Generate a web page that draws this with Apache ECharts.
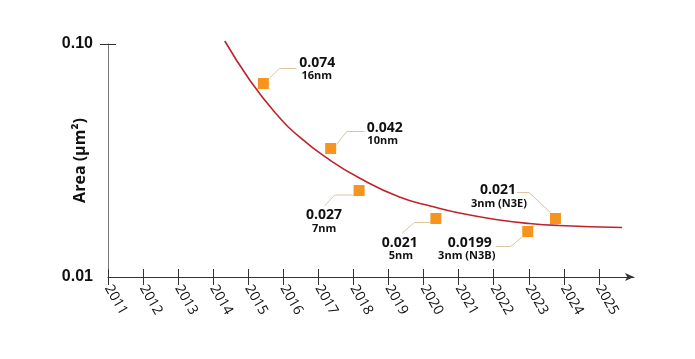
<!DOCTYPE html>
<html><head><meta charset="utf-8">
<script src="https://cdn.jsdelivr.net/npm/echarts@6/dist/echarts.min.js"></script>
<style>html,body{margin:0;padding:0;background:#fff}#c{width:695px;height:359px}</style>
</head><body><div id="c"></div>
<script>
// ---- data ----
const years = [2011,2012,2013,2014,2015,2016,2017,2018,2019,2020,2021,2022,2023,2024,2025];
const yTicks = [0.01, 0.1];
const yTickLabels = ['0.01', '0.10'];
const curveYears  = [2014.33, 2015.04, 2015.75, 2016.46, 2017.32, 2018.17, 2019.31, 2020.25, 2021.02, 2022.16, 2023.01, 2023.86, 2025.66];
const curveValues = [0.1030, 0.0701, 0.0511, 0.0399, 0.0318, 0.0266, 0.02205, 0.02008, 0.01882, 0.01757, 0.01697, 0.01664, 0.01631];
const pointYears  = [2015.43, 2017.35, 2018.16, 2020.35, 2022.97, 2023.76];
const pointValues = [0.0677, 0.0356, 0.0235, 0.01783, 0.01568, 0.01783];
const valueLabels = ['0.074', '0.042', '0.027', '0.021', '0.0199', '0.021'];
const nodeLabels  = ['16nm', '10nm', '7nm', '5nm', '3nm (N3B)', '3nm (N3E)'];

// ---- annotation layout (style: pixel offsets from each marker) ----
const annot = [
  {leader: [[6,-5],[16,-15],[33,-15]],     v: [54,-20.5], s: [53.5,-8]},
  {leader: [[6,-4],[16,-17],[34,-17]],     v: [54,-20],   s: [52,-7.5]},
  {leader: [[-5.5,4.5],[-24.5,4.5],[-34.5,15.5]], v: [-35,24.5], s: [-35,38]},
  {leader: [[-5.5,4],[-21.5,4],[-33.5,14.5]],     v: [-36,25],   s: [-35,37]},
  {leader: [[-5.5,5.5],[-17,15],[-32,15]],        v: [-58,11.5], s: [-61,24.5]},
  {leader: [[-5,-6],[-26.5,-26],[-38.5,-26]],     v: [-57.5,-28], s: [-56.5,-15]}
];

const chart = echarts.init(document.getElementById('c'), null, {renderer: 'canvas'});
const gridBox = {left: 108, right: 61, top: 44, bottom: 82};
const textColor = '#111';

function yLabel(v) {
  const lv = Math.log10(v);
  const i = yTicks.findIndex(t => Math.abs(Math.log10(t) - lv) < 0.01);
  return i >= 0 ? yTickLabels[i] : '';
}

chart.setOption({
  animation: false,
  backgroundColor: '#fff',
  grid: [Object.assign({}, gridBox), Object.assign({}, gridBox)],
  xAxis: [{
    gridIndex: 0, type: 'value', min: 2011, max: 2026, interval: 1,
    axisLine: {show: true, lineStyle: {color: '#333', width: 1}, symbol: ['none', 'arrow'], symbolSize: [6, 9]},
    axisTick: {show: true, length: 8, lineStyle: {color: '#333'}, customValues: years},
    axisLabel: {rotate: -60, customValues: years, formatter: v => String(v), fontSize: 14,
      fontFamily: 'Open Sans', color: '#111', margin: 9},
    splitLine: {show: false}
  }, {
    gridIndex: 1, type: 'value', min: 2011, max: 2026, interval: 1,
    axisLine: {show: false},
    axisTick: {show: true, inside: true, length: 8, lineStyle: {color: '#333'}, customValues: years},
    axisLabel: {show: false},
    splitLine: {show: false}
  }],
  yAxis: [{
    gridIndex: 0, type: 'log', logBase: 10, min: 0.01, max: 0.1,
    axisLine: {show: true, lineStyle: {color: '#777', width: 1}},
    axisTick: {show: true, length: 8, lineStyle: {color: '#333'}, customValues: [0.1]},
    axisLabel: {customValues: yTicks, formatter: yLabel, fontSize: 16, fontWeight: 'bold',
      fontFamily: 'Liberation Sans', color: textColor, margin: 15},
    splitLine: {show: false},
    name: 'Area (µm²)', nameLocation: 'middle', nameGap: 20, nameMoveOverlap: false,
    nameTextStyle: {fontSize: 16, fontWeight: 'bold', fontFamily: 'Open Sans', color: textColor}
  }, {
    gridIndex: 1, type: 'log', logBase: 10, min: 0.01, max: 0.1,
    axisLine: {show: false},
    axisTick: {show: true, inside: true, length: 8, lineStyle: {color: '#333'}, customValues: [0.1]},
    axisLabel: {show: false},
    splitLine: {show: false}
  }],
  series: [{
    type: 'line', xAxisIndex: 0, yAxisIndex: 0, clip: false,
    data: curveYears.map((x, i) => [x, curveValues[i]]),
    smooth: 0.5, showSymbol: false, symbol: 'none',
    lineStyle: {color: '#c0232c', width: 1.6}, z: 2
  }, {
    type: 'custom', xAxisIndex: 0, yAxisIndex: 0, clip: false,
    data: pointYears.map((x, i) => [x, pointValues[i], i]),
    encode: {x: 0, y: 1},
    renderItem: function (params, api) {
      const i = api.value(2);
      const c = api.coord([api.value(0), api.value(1)]);
      const a = annot[i];
      return {type: 'group', children: [
        {type: 'polyline', shape: {points: a.leader.map(p => [c[0] + p[0], c[1] + p[1]])},
          style: {stroke: '#d9c7a2', lineWidth: 1, fill: null}},
        {type: 'text', x: c[0] + a.v[0], y: c[1] + a.v[1],
          style: {text: valueLabels[i], fontSize: 14, fontWeight: 'bold', fontFamily: 'Open Sans',
            fill: textColor, align: 'center', verticalAlign: 'middle'}},
        {type: 'text', x: c[0] + a.s[0], y: c[1] + a.s[1],
          style: {text: nodeLabels[i], fontSize: 11, fontWeight: 'bold', fontFamily: 'Open Sans',
            fill: textColor, align: 'center', verticalAlign: 'middle'}}
      ]};
    },
    z: 3
  }, {
    type: 'scatter', xAxisIndex: 0, yAxisIndex: 0,
    data: pointYears.map((x, i) => [x, pointValues[i]]),
    symbol: 'rect', symbolSize: 11,
    itemStyle: {color: '#f7941d', opacity: 1}, z: 4
  }]
});
</script>
</body></html>
